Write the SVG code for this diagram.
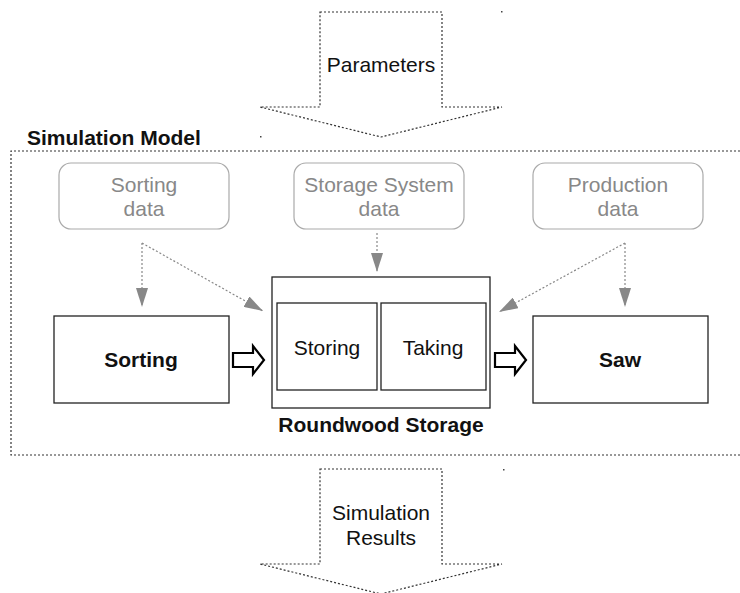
<svg xmlns="http://www.w3.org/2000/svg" width="740" height="593" viewBox="0 0 740 593">
<defs>
<style>
text{font-family:"Liberation Sans",Arial,sans-serif;font-size:21px;text-anchor:middle;fill:#111}
.b{font-weight:bold}
.g{fill:#888}
.data{fill:#fff;stroke:#aaa;stroke-width:1.2}
.box{fill:#fff;stroke:#222;stroke-width:1.3}
.big{fill:#fff;stroke:#333;stroke-width:1.2;stroke-dasharray:2 2}
.con{fill:none;stroke:#888;stroke-width:1.2;stroke-dasharray:2 2}
.blk{fill:#fff;stroke:#000;stroke-width:2.2;stroke-linejoin:miter}
.dot{fill:#444}
</style>
<marker id="ah" viewBox="0 0 19 12" refX="19" refY="6" markerWidth="19" markerHeight="12" markerUnits="userSpaceOnUse" orient="auto">
<path d="M0,0 L19,6 L0,12 Z" fill="#888"/>
</marker>
</defs>
<rect width="740" height="593" fill="#fff"/>

<g id="parameters">
<path class="big" d="M320,12 H442 V107 H502 L381,137 L260,107 H320 Z"/>
<text x="381" y="72">Parameters</text>
</g>

<g id="simulation-model">
<path class="big" d="M740,151 H11 V455 H740"/>
<text class="b" x="27" y="145" style="text-anchor:start">Simulation Model</text>
</g>

<g id="sorting-data">
<rect class="data" x="59" y="163" width="170" height="66" rx="12"/>
<text class="g" x="144" y="192">Sorting</text>
<text class="g" x="144" y="216">data</text>
</g>

<g id="storage-system-data">
<rect class="data" x="294" y="163" width="170" height="66" rx="12"/>
<text class="g" x="379" y="192">Storage System</text>
<text class="g" x="379" y="216">data</text>
</g>

<g id="production-data">
<rect class="data" x="533" y="163" width="170" height="66" rx="12"/>
<text class="g" x="618" y="192">Production</text>
<text class="g" x="618" y="216">data</text>
</g>

<g id="sorting">
<rect class="box" x="54" y="316" width="175" height="87"/>
<text class="b" x="141" y="367">Sorting</text>
</g>

<g id="roundwood-storage">
<rect class="box" x="272" y="277" width="218" height="131"/>
<rect class="box" x="277" y="303" width="100" height="87"/>
<rect class="box" x="381" y="303" width="105" height="87"/>
<text x="327" y="355">Storing</text>
<text x="433" y="355">Taking</text>
<text class="b" x="381" y="432">Roundwood Storage</text>
</g>

<g id="saw">
<rect class="box" x="533" y="316" width="175" height="87"/>
<text class="b" x="620" y="367">Saw</text>
</g>

<g id="simulation-results">
<path class="big" d="M320,469 H442 V564 H502 L381,594 L260,564 H320 Z"/>
<text x="381" y="520">Simulation</text>
<text x="381" y="545">Results</text>
</g>

<g id="connectors">
<path class="con" d="M142,243 V307" marker-end="url(#ah)"/>
<path class="con" d="M142,243 L263,311" marker-end="url(#ah)"/>
<path class="con" d="M377,233 V272" marker-end="url(#ah)"/>
<path class="con" d="M625,243 V307" marker-end="url(#ah)"/>
<path class="con" d="M625,243 L499,312" marker-end="url(#ah)"/>
<path class="blk" d="M233,353 H253 V346 L264,360 L253,374 V367 H233 Z"/>
<path class="blk" d="M495,353 H515 V346 L526,360 L515,374 V367 H495 Z"/>
</g>

<g id="marks">
<rect class="dot" x="501" y="11" width="1.5" height="1.5"/>
<rect class="dot" x="260" y="136" width="1.5" height="1.5"/>
<rect class="dot" x="503" y="469" width="1.5" height="1.5"/>
</g>
</svg>
